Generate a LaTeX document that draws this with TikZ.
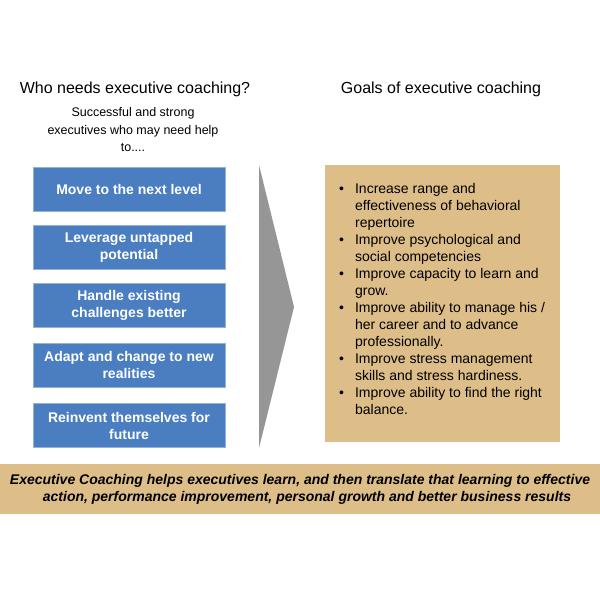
\documentclass[tikz,border=0pt]{standalone}
\usepackage{fontspec}
\setmainfont{Liberation Sans}
\definecolor{boxblue}{RGB}{74,126,192}
\definecolor{tan}{RGB}{221,190,137}
\definecolor{chev}{RGB}{150,150,150}
\begin{document}
\begin{tikzpicture}[x=1pt,y=-1pt,
  bluebox/.style={fill=boxblue,draw=boxblue!60!white,line width=0.6pt,text=white,font=\fontsize{14}{17}\selectfont\bfseries,align=center,minimum width=192pt,minimum height=44pt,inner sep=0pt},
  heading/.style={font=\fontsize{16}{19}\selectfont,inner sep=0pt}]
\useasboundingbox (0,0) rectangle (600,600);
\fill[white] (0,0) rectangle (600,600);
% headings
\node[heading] (h1) at (135,89) {Who needs executive coaching?};
\node[heading] (h2) at (441,89) {Goals of executive coaching};
\node[font=\fontsize{12.5}{17.5}\selectfont,align=center,inner sep=0pt] (sub) at (133,130) {Successful and strong\\executives who may need help\\to....};
% blue boxes
\node[bluebox] (b1) at (129,189) {Move to the next level};
\node[bluebox] (b2) at (129,247) {Leverage untapped\\potential};
\node[bluebox] (b3) at (129,305) {Handle existing\\challenges better};
\node[bluebox] (b4) at (129,365) {Adapt and change to new\\realities};
\node[bluebox] (b5) at (129,425.5) {Reinvent themselves for\\future};
% chevron
\fill[chev] (259,165) -- (294,307) -- (259,448) -- cycle;
% goals box
\node[fill=tan,minimum width=235pt,minimum height=277pt,inner sep=0pt] (goals) at (442.5,303.5) {};
\node[anchor=north west,inner sep=0pt,font=\fontsize{14}{17}\selectfont] (list) at (339,181) {%
\begin{tabular}{@{}l@{\hspace{11pt}}l@{}}
\textbullet & Increase range and\\
 & effectiveness of behavioral\\
 & repertoire\\
\textbullet & Improve psychological and\\
 & social competencies\\
\textbullet & Improve capacity to learn and\\
 & grow.\\
\textbullet & Improve ability to manage his /\\
 & her career and to advance\\
 & professionally.\\
\textbullet & Improve stress management\\
 & skills and stress hardiness.\\
\textbullet & Improve ability to find the right\\
 & balance.
\end{tabular}};
% bottom band
\node[fill=tan,minimum width=600pt,minimum height=50pt,inner sep=0pt] (band) at (300,489) {};
\node[font=\fontsize{14}{17}\selectfont\bfseries\itshape,align=center,inner sep=0pt] (bandtext) at (300,489.5) {Executive Coaching helps executives learn, and then translate that learning to effective\\\hspace*{14pt}action, performance improvement, personal growth and better business results};
\end{tikzpicture}
\end{document}
